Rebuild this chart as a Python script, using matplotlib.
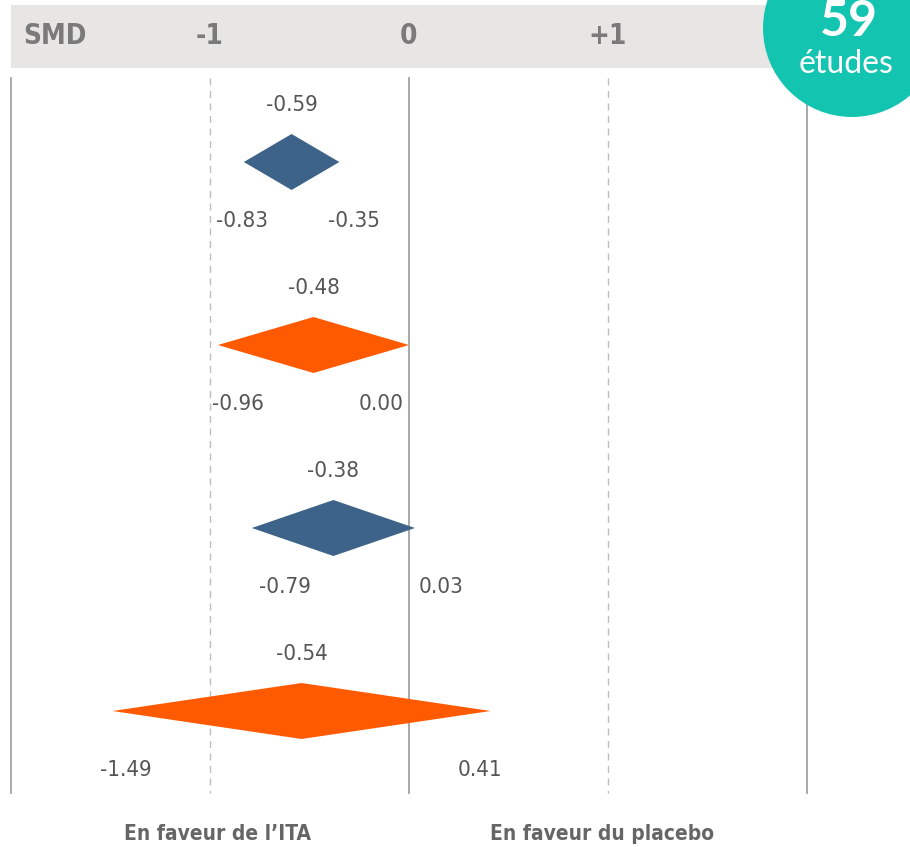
import matplotlib
matplotlib.use("Agg")
import matplotlib.pyplot as plt
from matplotlib.patches import Polygon, Rectangle, Ellipse

# données
estimates = [-0.59, -0.48, -0.38, -0.54]
lower = [-0.83, -0.96, -0.79, -1.49]
upper = [-0.35, 0.00, 0.03, 0.41]
colors = ["#3d6488", "#ff5a00", "#3d6488", "#ff5a00"]
tick_values = [-1, 0, 1]
tick_labels = ["-1", "0", "+1"]
n_studies = 59

# décalages manuels des étiquettes de bornes (en pixels)
lo_shift = [-2, 20, 33, 13]
hi_shift = [15, -28, 26, -11]

COND = dict(family="DejaVu Sans", fontstretch="condensed")
PX = 199.0           # pixels par unité de SMD
ORIG = 409           # pixel du zéro
X0 = -ORIG / PX
X1 = (910 - ORIG) / PX

fig = plt.figure(figsize=(9.1, 8.47), dpi=100)
ax = fig.add_axes([0, 0, 1, 1])
ax.set_xlim(X0, X1)
ax.set_ylim(847, 0)
ax.axis("off")

# bandeau gris
ax.add_patch(Rectangle((-2, 5), X1 + 2, 63, color="#e8e6e4", lw=0, zorder=1))
ax.text(-1.78, 36, "SMD", ha="center", va="center", fontsize=20,
        fontweight="bold", color="#7a7a7a", **COND)
for v, lab in zip(tick_values, tick_labels):
    ax.text(v, 36, lab, ha="center", va="center", fontsize=20,
            fontweight="bold", color="#7a7a7a", **COND)

# lignes verticales
for v in [-2, 0, 2]:
    ax.plot([v, v], [78, 793], color="#9a9a9a", lw=1.2, zorder=2)
for v in [-1, 1]:
    ax.plot([v, v], [78, 793], color="#bdbdbd", lw=1.0, ls=(0, (5, 4)), zorder=2)

# losanges
for i, (est, lo, hi, c) in enumerate(zip(estimates, lower, upper, colors)):
    y = 162 + 183 * i
    h = 28
    ax.add_patch(Polygon([(lo, y), (est, y - h), (hi, y), (est, y + h)],
                         closed=True, color=c, lw=0, zorder=3))
    ax.text(est, y - 57, f"{est:.2f}", ha="center", va="center", fontsize=16,
            color="#555555", **COND)
    ax.text(lo + lo_shift[i] / PX, y + 59, f"{lo:.2f}", ha="center", va="center",
            fontsize=16, color="#555555", **COND)
    ax.text(hi + hi_shift[i] / PX, y + 59, f"{hi:.2f}", ha="center", va="center",
            fontsize=16, color="#555555", **COND)

# légende du bas
ax.text(-0.96, 834, "En faveur de l\u2019ITA", ha="center", va="center",
        fontsize=15, fontweight="bold", color="#666666", **COND)
ax.text(0.97, 834, "En faveur du placebo", ha="center", va="center",
        fontsize=15, fontweight="bold", color="#666666", **COND)

# pastille "59 études"
cx = (852 - ORIG) / PX
ax.add_patch(Ellipse((cx, 28), 2 * 89 / PX, 178, color="#13c4b1", lw=0, zorder=4))
ax.text(cx - 3 / PX, 22, str(n_studies), ha="center", va="center", fontsize=36,
        fontweight="bold", color="white", family=["Lato", "DejaVu Sans"], zorder=5)
ax.text(cx - 6 / PX, 64, "études", ha="center", va="center", fontsize=23,
        color="white", family=["Lato", "DejaVu Sans"], zorder=5)

fig.savefig("out.png", dpi=100)
